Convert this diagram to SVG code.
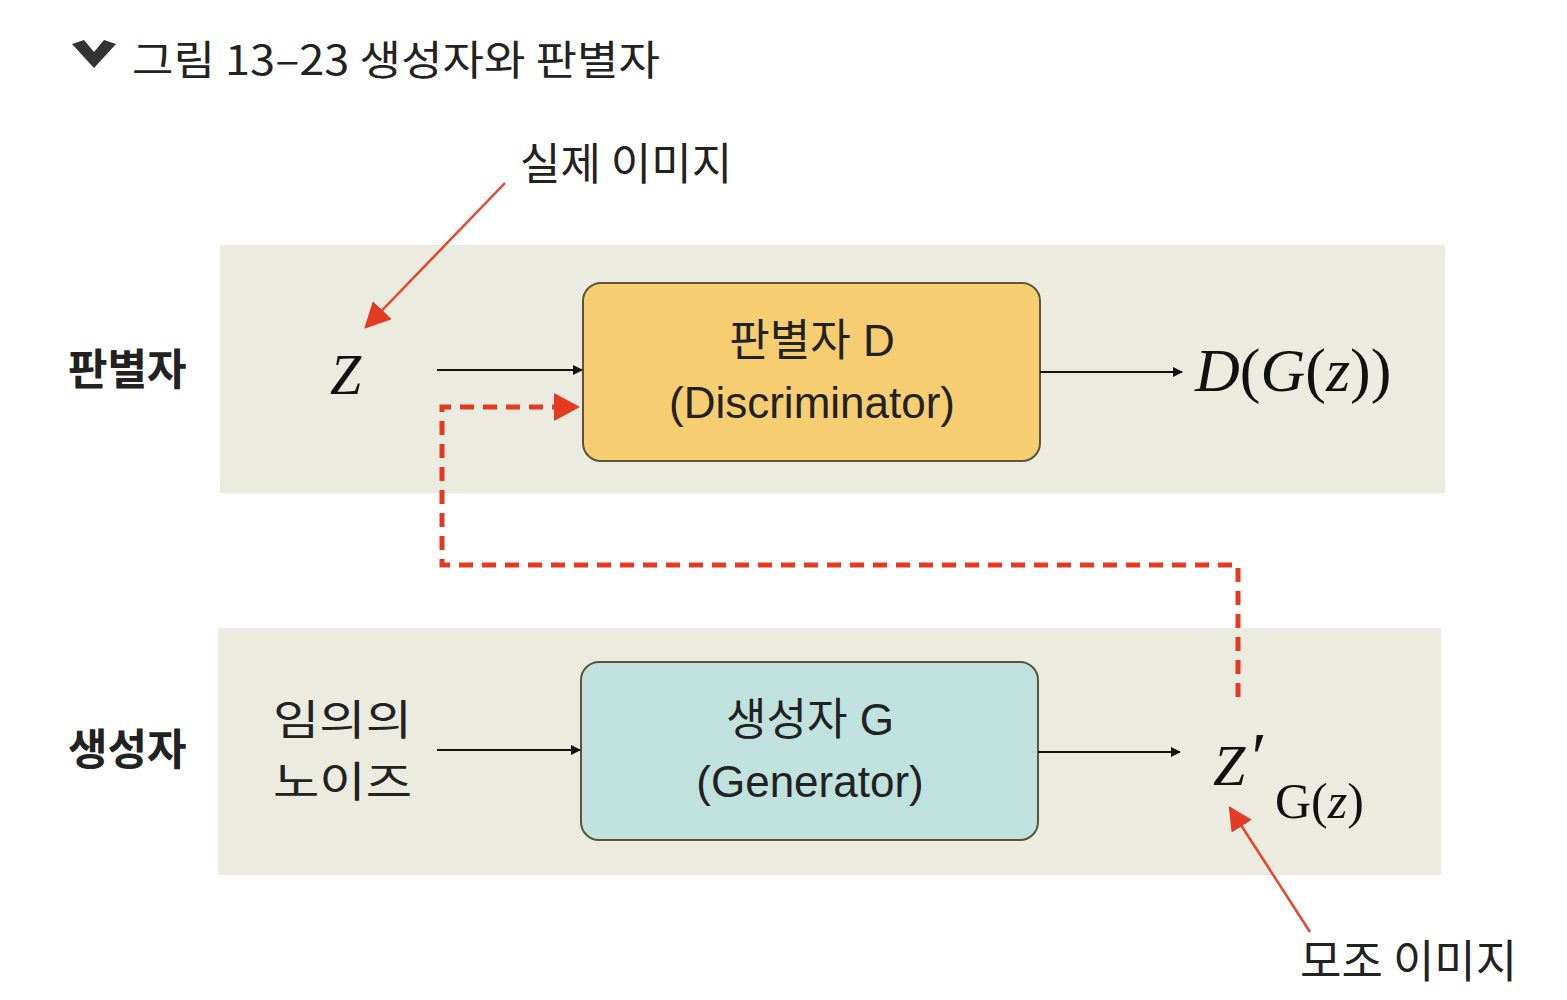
<svg xmlns="http://www.w3.org/2000/svg" width="1567" height="1000" viewBox="0 0 1567 1000">
<style>
.band{fill:#ecebe0}
.box{stroke:#5c5436;stroke-width:2}
.kr{font-family:"Noto Sans CJK KR","Noto Sans",sans-serif;fill:#222}
.boxt{font-family:"Liberation Sans","Noto Sans CJK KR",sans-serif;font-size:44px;fill:#222;text-anchor:middle}
.math{font-family:"Liberation Serif",serif;font-style:italic;fill:#111}
.up{font-style:normal}
.conn{stroke:#111;stroke-width:2;fill:none}
.red{stroke:#e8452c;stroke-width:2.5;fill:none}
.dash{stroke:#e53a22;stroke-width:5;fill:none;stroke-dasharray:14 9}
</style>
<defs>
<marker id="ah" markerWidth="10" markerHeight="10" refX="9" refY="5" orient="auto" markerUnits="userSpaceOnUse" viewBox="0 0 10 10"><path d="M0,0 L10,5 L0,10 z" fill="#111"/></marker>
<marker id="ahr" viewBox="0 0 10 10" refX="9" refY="5" markerWidth="26" markerHeight="26" orient="auto" markerUnits="userSpaceOnUse"><path d="M0,0 L10,5 L0,10 z" fill="#e53a22"/></marker>
<marker id="ahr2" viewBox="0 0 10 10" refX="9" refY="5" markerWidth="24" markerHeight="24" orient="auto" markerUnits="userSpaceOnUse"><path d="M0,0 L10,5 L0,10 z" fill="#e53a22"/></marker>
</defs>
<rect width="1567" height="1000" fill="#ffffff"/>
<g id="title">
<path d="M72,44 L84,40 L94,52 L104,40 L116,44 L94,68 z" fill="#333"/>
<text x="132" y="75" class="kr" font-size="41" fill="#333" textLength="528" lengthAdjust="spacingAndGlyphs">그림 13–23  생성자와 판별자</text>
</g>
<rect class="band" x="220" y="245" width="1225" height="248"/>
<rect class="band" x="218" y="628" width="1223" height="247"/>
<g id="label-disc"><text x="68" y="385" class="kr" font-size="43" font-weight="bold">판별자</text></g>
<g id="label-gen"><text x="68" y="765" class="kr" font-size="43" font-weight="bold">생성자</text></g>
<g id="z"><text x="330" y="394" class="math" font-size="56">Z</text></g>
<g id="discriminator">
<rect class="box" x="583" y="283" width="457" height="178" rx="18" fill="#f7cd72"/>
<text x="812" y="356" class="boxt">판별자 D</text>
<text x="812" y="418" class="boxt">(Discriminator)</text>
</g>
<g id="dgz"><text x="1195" y="391" class="math" font-size="62">D<tspan class="up">(</tspan>G<tspan class="up">(</tspan>z<tspan class="up">))</tspan></text></g>
<g id="real"><text x="520" y="180" class="kr" font-size="44">실제 이미지</text></g>
<g id="noise">
<text x="273" y="735" class="kr" font-size="42" textLength="139" lengthAdjust="spacingAndGlyphs">임의의</text>
<text x="273" y="797" class="kr" font-size="42" textLength="139" lengthAdjust="spacingAndGlyphs">노이즈</text>
</g>
<g id="generator">
<rect class="box" x="581" y="662" width="457" height="178" rx="18" fill="#bfe2df"/>
<text x="810" y="735" class="boxt">생성자 G</text>
<text x="810" y="797" class="boxt">(Generator)</text>
</g>
<g id="zprime">
<text x="1213" y="785" class="math" font-size="58">Z<tspan font-size="70" dx="2" dy="-4">′</tspan></text>
<text x="1275" y="818" font-family="Liberation Serif,serif" font-size="50" fill="#111">G(<tspan font-style="italic">z</tspan>)</text>
</g>
<g id="fake"><text x="1300" y="978" class="kr" font-size="45">모조 이미지</text></g>
<g id="connectors">
<line class="conn" x1="437" y1="370" x2="582" y2="370" marker-end="url(#ah)"/>
<line class="conn" x1="1040" y1="372" x2="1182" y2="372" marker-end="url(#ah)"/>
<line class="conn" x1="437" y1="750" x2="580" y2="750" marker-end="url(#ah)"/>
<line class="conn" x1="1038" y1="752" x2="1180" y2="752" marker-end="url(#ah)"/>
<path class="dash" d="M1238,697 L1238,565 L442,565 L442,407 L556,407"/>
<path d="M554,393 L580,407 L554,421 z" fill="#e53a22"/>
<line class="red" x1="505" y1="183" x2="366" y2="327" marker-end="url(#ahr)"/>
<line class="red" x1="1310" y1="932" x2="1230" y2="808" marker-end="url(#ahr2)"/>
</g>
</svg>
